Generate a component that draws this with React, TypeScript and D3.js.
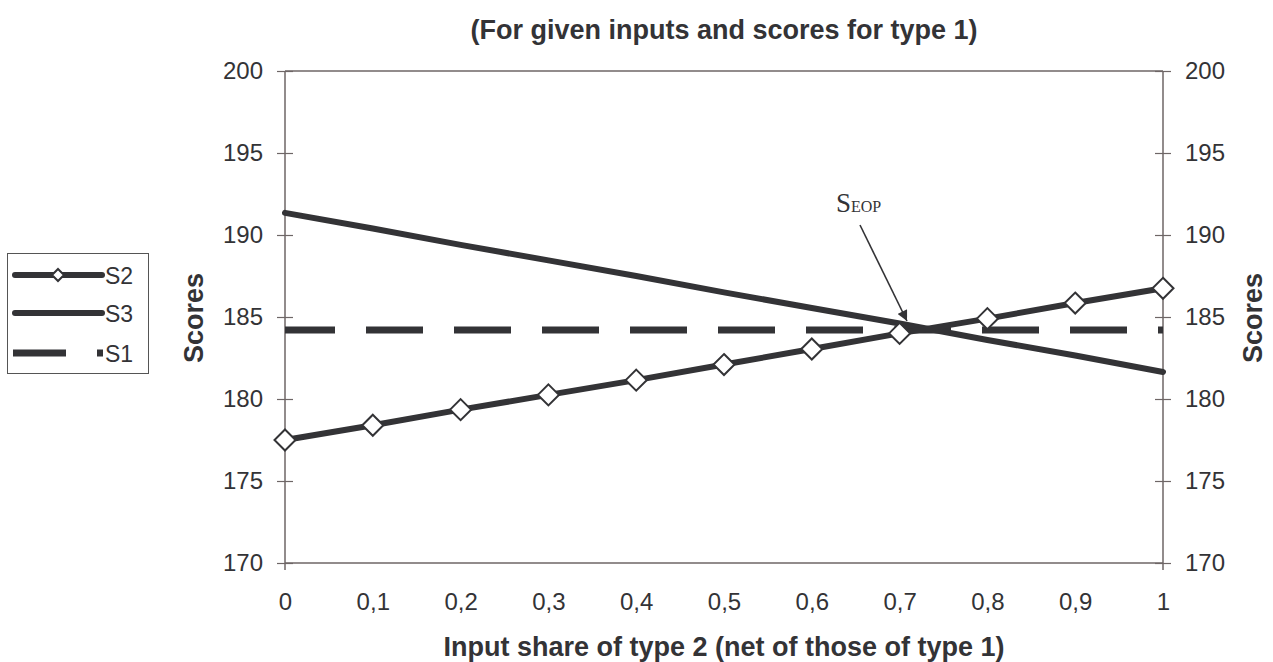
import React, { useEffect, useRef } from 'react';
import * as d3 from 'd3';

// input share of type 2
const shares = [0, 0.1, 0.2, 0.3, 0.4, 0.5, 0.6, 0.7, 0.8, 0.9, 1];
const shareLabels = ['0', '0,1', '0,2', '0,3', '0,4', '0,5', '0,6', '0,7', '0,8', '0,9', '1'];
const s2 = [177.5, 178.4, 179.35, 180.25, 181.15, 182.1, 183.05, 184.0, 184.9, 185.85, 186.75];
const s3 = [191.35, 190.4, 189.4, 188.45, 187.5, 186.5, 185.55, 184.6, 183.6, 182.65, 181.65];
const s1 = [184.2, 184.2, 184.2, 184.2, 184.2, 184.2, 184.2, 184.2, 184.2, 184.2, 184.2];
const scoreTicks = [170, 175, 180, 185, 190, 195, 200];

const W = 1273;
const H = 662;
const FONT = '"Liberation Sans", Arial, sans-serif';
const INK = '#333336';
const AXIS = '#6e6666';

const App: React.FC = () => {
    const svgRef = useRef<SVGSVGElement>(null);

    useEffect(() => {
        if (!svgRef.current) return;
        const svg = d3.select(svgRef.current);
        svg.selectAll('*').remove();

        const left = 285, right = 1163, top = 71, bottom = 563;

        const x = d3.scaleLinear().domain([0, 1]).range([left, right]);
        const y = d3.scaleLinear().domain([170, 200]).range([bottom, top]);

        svg.append('rect').attr('width', W).attr('height', H).attr('fill', 'white');

        // title
        svg.append('text')
            .attr('x', (left + right) / 2)
            .attr('y', 39)
            .attr('text-anchor', 'middle')
            .attr('font-family', FONT)
            .attr('font-weight', 'bold')
            .attr('font-size', 27)
            .attr('fill', INK)
            .text('(For given inputs and scores for type 1)');

        // frame
        const frame = svg.append('g').attr('stroke', AXIS).attr('stroke-width', 1.5).attr('fill', 'none');
        frame.append('line').attr('x1', left).attr('x2', right).attr('y1', top).attr('y2', top);
        frame.append('line').attr('x1', left).attr('x2', right).attr('y1', bottom).attr('y2', bottom);

        // Left Y axis
        const yl = svg.append('g')
            .attr('transform', `translate(${left},0)`)
            .call(d3.axisLeft(y).tickValues(scoreTicks).tickSize(8).tickPadding(14).tickFormat(d3.format('d')));
        // Right Y axis
        const yr = svg.append('g')
            .attr('transform', `translate(${right},0)`)
            .call(d3.axisRight(y).tickValues(scoreTicks).tickSize(8).tickPadding(14).tickFormat(d3.format('d')));

        [yl, yr].forEach(g => {
            g.select('.domain').attr('stroke', AXIS).attr('stroke-width', 1.5).attr('d', `M0,${bottom + 7}V${top}`);
            g.selectAll('.tick line').attr('stroke', AXIS).attr('stroke-width', 1.2);
            g.selectAll('.tick text')
                .attr('font-family', FONT)
                .attr('font-size', 24)
                .attr('fill', INK);
        });
        // crossing ticks
        yl.selectAll('.tick line').attr('x1', 8).attr('x2', -8);
        yr.selectAll('.tick line').attr('x1', -8).attr('x2', 8);

        // X axis labels
        const xa = svg.append('g')
            .attr('transform', `translate(0,${bottom})`)
            .call(d3.axisBottom(x).tickValues(shares).tickSize(0).tickPadding(0)
                .tickFormat((_, i) => shareLabels[i]));
        xa.select('.domain').remove();
        xa.selectAll('.tick text')
            .attr('y', 47)
            .attr('dy', null)
            .attr('font-family', FONT)
            .attr('font-size', 24)
            .attr('fill', INK);

        // axis titles
        svg.append('text')
            .attr('x', (left + right) / 2)
            .attr('y', 656)
            .attr('text-anchor', 'middle')
            .attr('font-family', FONT)
            .attr('font-weight', 'bold')
            .attr('font-size', 27)
            .attr('fill', INK)
            .text('Input share of type 2 (net of those of type 1)');

        [203, 1262].forEach(cx => {
            svg.append('text')
                .attr('transform', `translate(${cx},${y(185) + 1}) rotate(-90)`)
                .attr('text-anchor', 'middle')
                .attr('font-family', FONT)
                .attr('font-weight', 'bold')
                .attr('font-size', 27)
                .attr('fill', INK)
                .text('Scores');
        });

        const line = d3.line<number>()
            .x((_, i) => x(shares[i]))
            .y(d => y(d));

        // S1 dashed
        svg.append('path')
            .datum(s1)
            .attr('fill', 'none')
            .attr('stroke', INK)
            .attr('stroke-width', 7)
            .attr('stroke-dasharray', '57 31')
            .attr('stroke-dashoffset', 7)
            .attr('d', line);

        // S3
        svg.append('path')
            .datum(s3)
            .attr('fill', 'none')
            .attr('stroke', INK)
            .attr('stroke-width', 6)
            .attr('stroke-linecap', 'round')
            .attr('d', line);

        // S2
        svg.append('path')
            .datum(s2)
            .attr('fill', 'none')
            .attr('stroke', INK)
            .attr('stroke-width', 6)
            .attr('stroke-linecap', 'round')
            .attr('d', line);

        const diamond = 'M0,-10.5L10.5,0L0,10.5L-10.5,0Z';
        svg.selectAll('.dot')
            .data(s2)
            .enter()
            .append('path')
            .attr('class', 'dot')
            .attr('d', diamond)
            .attr('transform', (d, i) => `translate(${x(shares[i])},${y(d)})`)
            .attr('fill', 'white')
            .attr('stroke', INK)
            .attr('stroke-width', 2);

        // annotation S_EOP
        const defs = svg.append('defs');
        defs.append('marker')
            .attr('id', 'arrow')
            .attr('viewBox', '0 0 10 10')
            .attr('refX', 10)
            .attr('refY', 5)
            .attr('markerWidth', 7.5)
            .attr('markerHeight', 6.5)
            .attr('markerUnits', 'strokeWidth')
            .attr('orient', 'auto')
            .append('path')
            .attr('d', 'M0,0L10,5L0,10Z')
            .attr('fill', INK);

        svg.append('line')
            .attr('x1', 860).attr('y1', 225)
            .attr('x2', 907).attr('y2', 321)
            .attr('stroke', INK)
            .attr('stroke-width', 1.6)
            .attr('marker-end', 'url(#arrow)');

        const lbl = svg.append('text')
            .attr('x', 836)
            .attr('y', 212)
            .attr('font-family', '"Liberation Serif", "Times New Roman", serif')
            .attr('fill', INK);
        lbl.append('tspan').attr('font-size', 27).text('S');
        lbl.append('tspan').attr('font-size', 16).text('EOP');

        // legend
        const lg = svg.append('g');
        lg.append('rect')
            .attr('x', 7.5).attr('y', 253.5).attr('width', 141).attr('height', 120)
            .attr('fill', 'white').attr('stroke', '#555').attr('stroke-width', 1);

        const entries = [
            { name: 'S2', y: 275, kind: 'marker' },
            { name: 'S3', y: 313, kind: 'solid' },
            { name: 'S1', y: 353, kind: 'dash' },
        ];
        entries.forEach(e => {
            const ln = lg.append('line')
                .attr('x1', e.kind === 'dash' ? 13 : 15).attr('x2', e.kind === 'dash' ? 103 : 102)
                .attr('y1', e.y).attr('y2', e.y)
                .attr('stroke', INK);
            if (e.kind === 'dash') {
                ln.attr('stroke-width', 7).attr('stroke-dasharray', '53 31');
            } else {
                ln.attr('stroke-width', 6).attr('stroke-linecap', 'round');
            }
            if (e.kind === 'marker') {
                lg.append('path')
                    .attr('d', 'M0,-6L6,0L0,6L-6,0Z')
                    .attr('transform', `translate(58,${e.y})`)
                    .attr('fill', 'white')
                    .attr('stroke', INK)
                    .attr('stroke-width', 2);
            }
            lg.append('text')
                .attr('x', 105)
                .attr('y', e.y + 9)
                .attr('font-family', FONT)
                .attr('font-size', 23)
                .attr('fill', INK)
                .text(e.name);
        });
    }, []);

    return (
        <svg ref={svgRef} width={W} height={H}
            style={{ position: 'absolute', left: 0, top: 0, display: 'block' }} />
    );
};

export default App;
